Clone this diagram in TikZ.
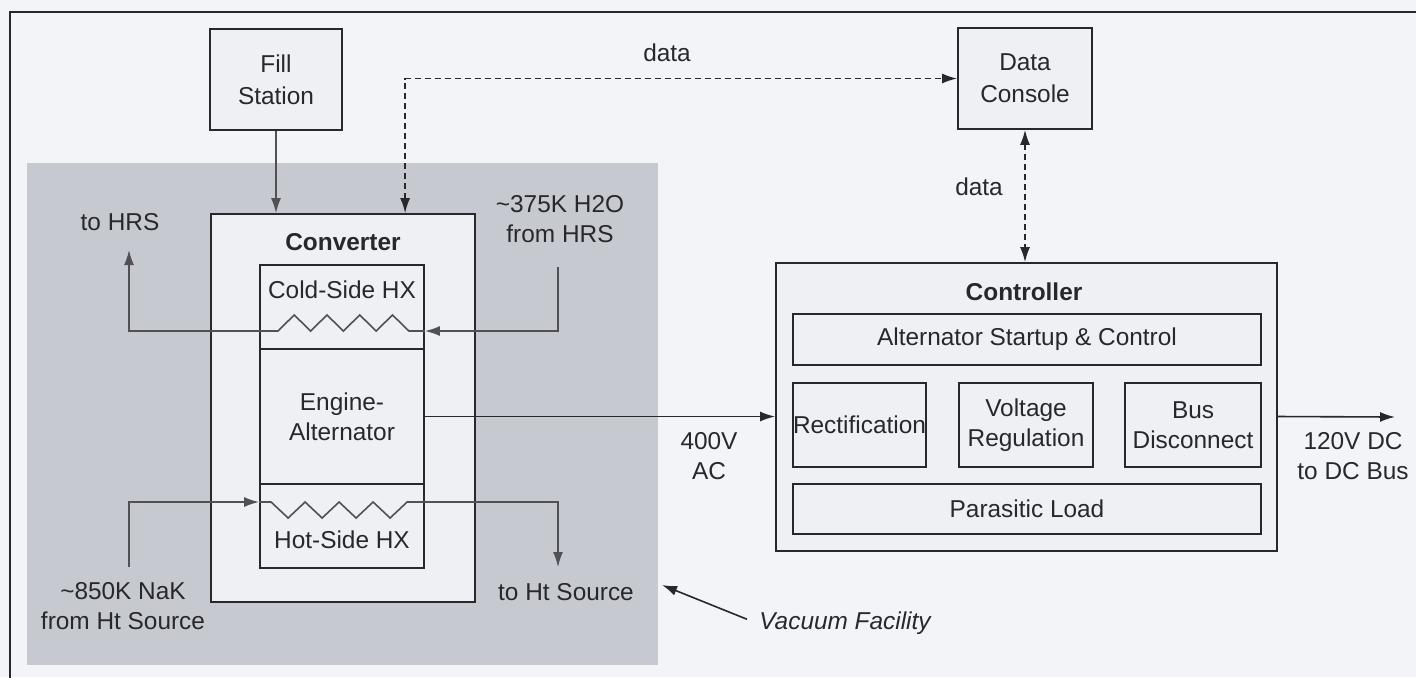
\documentclass[tikz,border=0pt]{standalone}
\usepackage{fontspec}
\setmainfont{Liberation Sans}
\usetikzlibrary{arrows.meta,calc}
\definecolor{pagebg}{RGB}{242,244,248}
\definecolor{vacgray}{RGB}{198,201,208}
\definecolor{boxfill}{RGB}{239,240,243}
\definecolor{linec}{RGB}{40,40,44}
\definecolor{pipec}{RGB}{80,80,86}
\tikzset{
  box/.style={draw=linec, line width=0.9pt, fill=boxfill, inner sep=0pt, anchor=center},
  lbl/.style={font=\fontsize{12.2}{14.8}\selectfont, align=center, inner sep=0pt, text=linec},
  blbl/.style={lbl, font=\fontsize{12.2}{14.8}\selectfont\bfseries},
  pipe/.style={draw=pipec, line width=0.8pt},
  sig/.style={draw=linec, line width=0.8pt},
  datal/.style={draw=linec, line width=0.8pt, dash pattern=on 3pt off 2pt},
  tip/.style={-{Latex[length=7.5pt,width=5pt]}},
  tips/.style={{Latex[length=7.5pt,width=5pt]}-{Latex[length=7.5pt,width=5pt]}}
}
\begin{document}
\begin{tikzpicture}[x=0.5pt,y=-0.5pt]
\useasboundingbox (0,0) rectangle (1416,677);
\fill[pagebg] (0,0) rectangle (1416,677);
% outer frame
\draw[linec, line width=0.9pt] (10,690) -- (10,12) -- (1430,12);
% vacuum facility region
\fill[vacgray] (27,163) rectangle (658,665);

% boxes
\node[box, minimum width=66pt, minimum height=50.5pt] (fill) at (276,79.5) {};
\node[lbl, font=\fontsize{12.2}{15.8}\selectfont] at (fill.center) {Fill\\Station};
\node[box, minimum width=132pt, minimum height=194pt] (conv) at (343,408) {};
\node[blbl] (convt) at (343,242) {Converter};
\node[box, minimum width=82pt, minimum height=42pt] (cold) at (342,307) {};
\node[lbl] (coldt) at (342,290) {Cold-Side HX};
\node[box, minimum width=82pt, minimum height=67.5pt] (eng) at (342,416.5) {};
\node[lbl] at (eng.center) {Engine-\\Alternator};
\node[box, minimum width=82pt, minimum height=42pt] (hot) at (342,526) {};
\node[lbl] (hott) at (342,540) {Hot-Side HX};

\node[box, minimum width=67pt, minimum height=50.5pt] (dcon) at (1025,78.5) {};
\node[lbl, font=\fontsize{12.2}{15.8}\selectfont] at (dcon.center) {Data\\Console};

\node[box, minimum width=250.5pt, minimum height=144pt] (ctrl) at (1026.5,407) {};
\node[blbl] (ctrlt) at (1024,292) {Controller};
\node[box, minimum width=234pt, minimum height=25.5pt] (alt) at (1027,339.5) {};
\node[lbl] at (alt.center) {Alternator Startup \& Control};
\node[box, minimum width=66.5pt, minimum height=42pt] (rect) at (859.5,425) {};
\node[lbl] at (rect.center) {Rectification};
\node[box, minimum width=67pt, minimum height=42pt] (volt) at (1026,425) {};
\node[lbl] at (volt.center) {Voltage\\Regulation};
\node[box, minimum width=68pt, minimum height=42pt] (bus) at (1193,425) {};
\node[lbl] at (bus.center) {Bus\\Disconnect};
\node[box, minimum width=234pt, minimum height=25pt] (para) at (1027,509) {};
\node[lbl] at (para.center) {Parasitic Load};

% labels
\node[lbl] (tohrs) at (120,222) {to HRS};
\node[lbl] (fromhrs) at (560,219) {\textasciitilde 375K H2O\\from HRS};
\node[lbl] (nak) at (123,606) {\textasciitilde 850K NaK\\from Ht Source};
\node[lbl] (toht) at (566,592) {to Ht Source};
\node[lbl] (ac) at (709,456) {400V\\AC};
\node[lbl] (dc) at (1353,456) {120V DC\\to DC Bus};
\node[lbl] (data1) at (667,53) {data};
\node[lbl] (data2) at (979,187) {data};
\node[lbl, font=\fontsize{12.2}{14.8}\selectfont\itshape] (vac) at (845,623) {Vacuum Facility};

% coordinates for free ends
\coordinate (hrsin) at (558,267);
\coordinate (hrsout) at (129,250);
\coordinate (nakin) at (129,567);
\coordinate (htout) at (558,567);
\coordinate (dcout) at (1395,417);
\coordinate (vactip) at (662,585);

% fill station to converter
\draw[pipe,tip] (fill.south) -- (fill.south |- conv.north);

% data links
\draw[datal,tips] ([xshift=97.5pt]conv.north west) |- (dcon.west);
\draw[datal,tips] (dcon.south) -- (dcon.south |- ctrl.north);

% power
\draw[sig,tip] (eng.east) -- (eng.east -| ctrl.west);
\draw[sig,tip] (ctrl.east |- eng.east) -- (dcout);

% cold side loop
\draw[pipe,tip] (hrsin) |- ([yshift=-12pt]cold.east);
\draw[pipe,tip] ([yshift=-12pt]cold.east) -- ++(-8pt,0)
  -- ++(-8.19pt,8pt) -- ++(-8.19pt,-8pt)
  -- ++(-8.19pt,8pt) -- ++(-8.19pt,-8pt)
  -- ++(-8.19pt,8pt) -- ++(-8.19pt,-8pt)
  -- ++(-8.19pt,8pt) -- ++(-8.19pt,-8pt)
  -| (hrsout);

% hot side loop
\draw[pipe,tip] (nakin) |- ([yshift=12pt]hot.west);
\draw[pipe,tip] ([yshift=12pt]hot.west) -- ++(6pt,0)
  -- ++(8.5pt,-8pt) -- ++(8.5pt,8pt)
  -- ++(8.5pt,-8pt) -- ++(8.5pt,8pt)
  -- ++(8.5pt,-8pt) -- ++(8.5pt,8pt)
  -- ++(8.5pt,-8pt) -- ++(8.5pt,8pt)
  -| (htout);

% vacuum facility pointer
\draw[sig,tip] ([xshift=-6pt,yshift=-4pt]vac.north west) -- (vactip);
\end{tikzpicture}
\end{document}
